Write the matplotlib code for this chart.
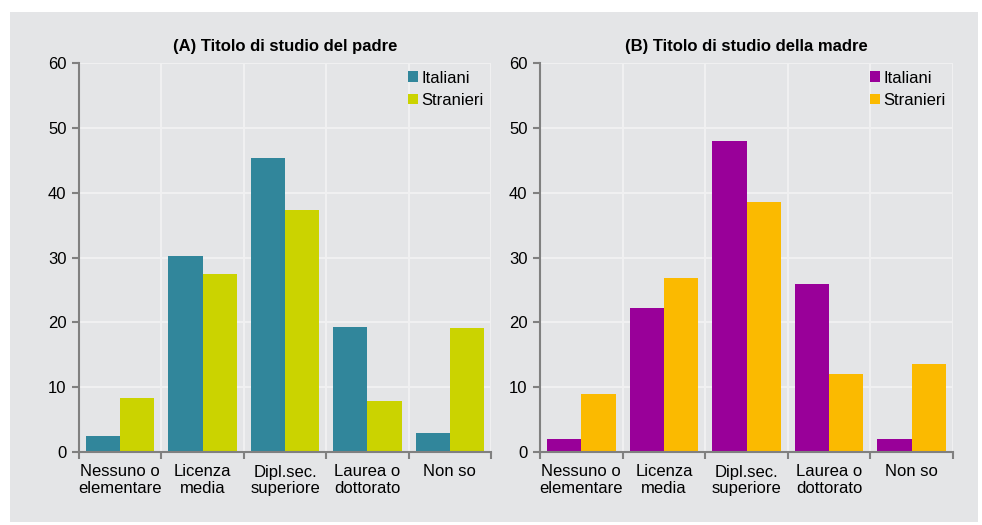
import matplotlib
matplotlib.use("Agg")
import matplotlib.pyplot as plt
import matplotlib.patches as mpatches
import numpy as np

plt.rcParams["font.family"] = ["Liberation Sans", "DejaVu Sans"]

CATEGORIES = ["Nessuno o\nelementare", "Licenza\nmedia", "Dipl.sec.\nsuperiore",
              "Laurea o\ndottorato", "Non so"]
SERIES = ["Italiani", "Stranieri"]

PADRE_ITALIANI = [2.4, 30.2, 45.3, 19.3, 2.9]
PADRE_STRANIERI = [8.3, 27.4, 37.4, 7.9, 19.2]
MADRE_ITALIANI = [2.0, 22.2, 47.9, 25.9, 2.0]
MADRE_STRANIERI = [8.9, 26.9, 38.6, 12.1, 13.6]

TITLES = ["(A) Titolo di studio del padre", "(B) Titolo di studio della madre"]
COLORS_A = ["#31869b", "#cbd300"]
COLORS_B = ["#990099", "#fbba00"]

BG = "#e4e5e7"
GRID = "#f0f0f1"
SPINE = "#808080"

fig = plt.figure(figsize=(9.82, 5.25), dpi=100)
fig.patch.set_facecolor("white")
# grey panel behind both charts
fig.patches.append(mpatches.Rectangle((10 / 982, 3 / 525), 968 / 982, 510 / 525,
                                      transform=fig.transFigure, facecolor=BG,
                                      edgecolor="none", zorder=-10))

panels = [
    ([79, 491], TITLES[0], [PADRE_ITALIANI, PADRE_STRANIERI], COLORS_A),
    ([540, 953], TITLES[1], [MADRE_ITALIANI, MADRE_STRANIERI], COLORS_B),
]

y_top, y_bot = 63, 452
n = len(CATEGORIES)
x = np.arange(n)
bw = 0.415

for (x0, x1), title, data, colors in panels:
    ax = fig.add_axes([x0 / 982, 1 - y_bot / 525, (x1 - x0) / 982, (y_bot - y_top) / 525])
    ax.set_facecolor(BG)
    for i, (vals, c) in enumerate(zip(data, colors)):
        ax.bar(x + (i - 0.5) * bw, vals, width=bw, color=c, label=SERIES[i], zorder=3)
    ax.set_xlim(-0.5, n - 0.5)
    ax.set_ylim(0, 60)
    ax.set_yticks(range(0, 61, 10))
    ax.set_xticks(x)
    ax.set_xticklabels(CATEGORIES, fontsize=12, linespacing=1.15)
    ax.set_xticks(np.arange(-0.5, n, 1), minor=True)
    ax.tick_params(axis="x", which="major", length=0, pad=9)
    ax.tick_params(axis="x", which="minor", length=5, color=SPINE, width=1.5, direction="out")
    ax.tick_params(axis="y", length=5, color=SPINE, width=1.5, labelsize=12, pad=4)
    ax.yaxis.grid(True, color=GRID, linewidth=1.5, zorder=0)
    ax.xaxis.grid(True, which="minor", color=GRID, linewidth=1.5, zorder=0)
    for s in ["top", "right"]:
        ax.spines[s].set_visible(False)
    for s in ["left", "bottom"]:
        ax.spines[s].set_color(SPINE)
        ax.spines[s].set_linewidth(1.5)
        ax.spines[s].set_zorder(4)
    ax.set_title(title, fontsize=12, fontweight="bold", pad=9)
    ax.legend(loc="upper right", frameon=False, fontsize=12, handlelength=0.6,
              handleheight=0.6, handletextpad=0.2, borderaxespad=0.25,
              borderpad=0.2, labelspacing=0.45)

fig.savefig("out.png", dpi=100, facecolor=fig.get_facecolor())
